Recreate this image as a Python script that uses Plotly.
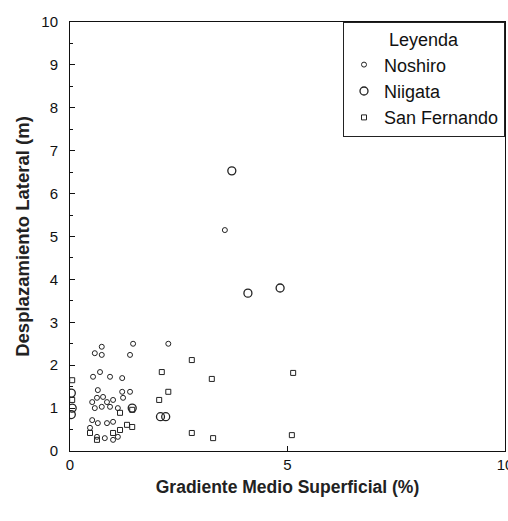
import plotly.graph_objects as go

# Data (x: Gradiente Medio Superficial %, y: Desplazamiento Lateral m)
noshiro_x = [3.56, 0.73, 0.57, 0.73, 1.38, 0.69, 0.53, 0.92, 1.20, 1.20, 1.38, 1.22, 0.64,
             0.62, 0.51, 0.76, 0.85, 0.99, 0.57, 0.73, 0.92, 1.10, 0.51, 0.64, 0.85, 0.99,
             0.46, 0.62, 0.80, 0.99, 1.10, 1.45, 2.26]
noshiro_y = [5.15, 2.43, 2.28, 2.24, 2.24, 1.84, 1.73, 1.73, 1.70, 1.38, 1.38, 1.24, 1.42,
             1.24, 1.14, 1.26, 1.14, 1.19, 1.00, 1.03, 1.03, 1.00, 0.72, 0.65, 0.65, 0.68,
             0.54, 0.33, 0.30, 0.26, 0.33, 2.50, 2.50]
niigata_x = [3.72, 4.09, 4.83, 2.08, 2.20, 1.43, 0.03, 0.05, 0.03]
niigata_y = [6.53, 3.68, 3.80, 0.80, 0.80, 1.00, 1.35, 1.00, 0.85]
sanfer_x = [2.80, 3.26, 5.13, 2.80, 3.29, 5.10, 2.11, 2.26, 2.05, 1.43, 1.31, 1.43, 1.15,
            0.99, 0.46, 0.62, 1.15, 0.05, 0.05]
sanfer_y = [2.12, 1.68, 1.82, 0.42, 0.30, 0.37, 1.84, 1.38, 1.19, 0.56, 0.61, 0.96, 0.49,
            0.42, 0.42, 0.26, 0.89, 1.65, 1.19]

x_ticks = [0, 5, 10]
y_ticks = [0, 1, 2, 3, 4, 5, 6, 7, 8, 9, 10]

fig = go.Figure()
fig.add_trace(go.Scatter(x=noshiro_x, y=noshiro_y, mode="markers", name="Noshiro",
                         marker=dict(symbol="circle-open", size=5, color="#222",
                                     line=dict(width=1))))
fig.add_trace(go.Scatter(x=niigata_x, y=niigata_y, mode="markers", name="Niigata",
                         marker=dict(symbol="circle-open", size=8, color="#222",
                                     line=dict(width=1.3))))
fig.add_trace(go.Scatter(x=sanfer_x, y=sanfer_y, mode="markers", name="San Fernando",
                         marker=dict(symbol="square-open", size=5, color="#222",
                                     line=dict(width=1))))

tick_font = dict(family="Liberation Sans Narrow, Arial, sans-serif", size=15, color="#111")
axis_common = dict(showgrid=False, zeroline=False, showline=True, linecolor="#111",
                   linewidth=1, mirror=True, ticks="inside", ticklen=5, tickcolor="#111",
                   tickfont=tick_font, automargin=False)

fig.update_xaxes(range=[0, 10], tickvals=x_ticks, **axis_common,
                 ticklabeloverflow="allow", ticklabelstandoff=0,
                 title=dict(text="<b>Gradiente Medio Superficial (%)</b>",
                            font=dict(family="Liberation Sans, Arial, sans-serif",
                                      size=17.5, color="#222"), standoff=8))
fig.update_yaxes(range=[0, 10], tickvals=y_ticks, **axis_common,
                 ticklabelstandoff=8,
                 minor=dict(ticks="inside", ticklen=3, dtick=0.5, tickcolor="#111"),
                 title=dict(text="<b>Desplazamiento Lateral (m)</b>",
                            font=dict(family="Liberation Sans, Arial, sans-serif",
                                      size=18.5, color="#222"), standoff=6))

fig.update_layout(
    width=508, height=521, autosize=False,
    margin=dict(l=70, r=3, t=22, b=70, autoexpand=False),
    paper_bgcolor="white", plot_bgcolor="white",
    legend=dict(x=1.0, y=1.0, xanchor="right", yanchor="top",
                bgcolor="white", bordercolor="#222", borderwidth=1,
                title=dict(text="Leyenda", side="top center",
                           font=dict(family="Liberation Sans, Arial, sans-serif",
                                     size=18, color="#111")),
                font=dict(family="Liberation Sans, Arial, sans-serif", size=18,
                          color="#111"),
                itemsizing="trace", tracegroupgap=0),
    showlegend=True,
)

post = ("document.body.style.margin='0';"
        "document.body.style.overflow='hidden';"
        "Plotly.relayout(document.getElementById('{plot_id}'),{width:508,height:521});")

fig.write_html("out.html", post_script=post,
               config={"responsive": False, "displayModeBar": False})
